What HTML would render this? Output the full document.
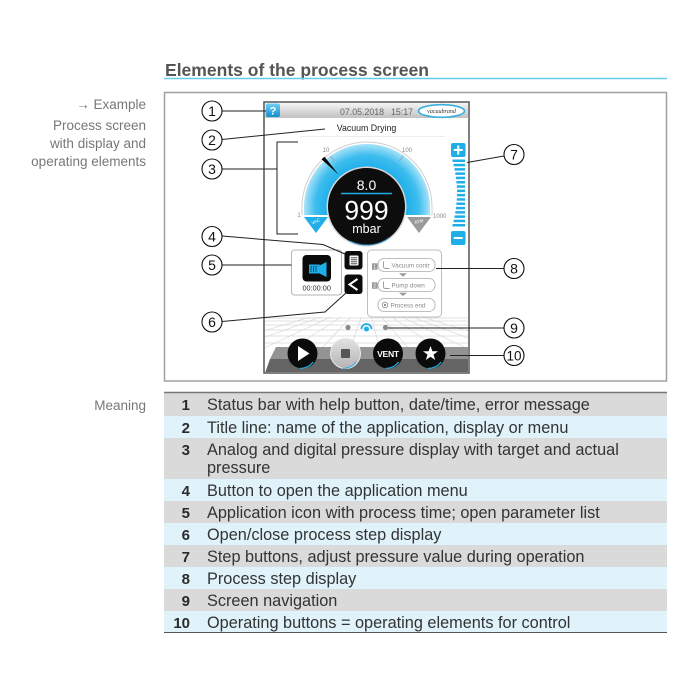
<!DOCTYPE html>
<html><head><meta charset="utf-8"><style>
html,body{margin:0;padding:0;background:#fff;}
svg{display:block;}
text{font-family:"Liberation Sans",Arial,sans-serif;}
</style></head><body>
<svg width="700" height="700" viewBox="0 0 700 700" xmlns="http://www.w3.org/2000/svg">
<defs>
 <linearGradient id="sb" x1="0" y1="0" x2="0" y2="1"><stop offset="0" stop-color="#f4f4f4"/><stop offset="1" stop-color="#c2c2c2"/></linearGradient>
 <linearGradient id="hb" x1="0" y1="0" x2="0" y2="1"><stop offset="0" stop-color="#6fd0f5"/><stop offset="1" stop-color="#1590d0"/></linearGradient>
 <radialGradient id="gb" cx="367" cy="207" r="63" gradientUnits="userSpaceOnUse"><stop offset="0.6" stop-color="#1badea"/><stop offset="0.82" stop-color="#3dbdee"/><stop offset="1" stop-color="#a8e3f8"/></radialGradient>
 <linearGradient id="stp" x1="0" y1="0" x2="0" y2="1"><stop offset="0" stop-color="#e2e2e2"/><stop offset="1" stop-color="#b4b4b4"/></linearGradient>
 <clipPath id="scr"><rect x="265" y="103" width="203" height="269"/></clipPath>
</defs>

<!-- Header -->
<text x="165" y="76" font-size="17.5" font-weight="bold" fill="#555" textLength="264" lengthAdjust="spacingAndGlyphs">Elements of the process screen</text>
<line x1="164" y1="78.5" x2="667" y2="78.5" stroke="#66cdef" stroke-width="1.5"/>

<!-- Left captions -->
<g font-size="13.5" fill="#777" text-anchor="end">
 <text x="146" y="109">→ Example</text>
 <text x="146" y="130">Process screen</text>
 <text x="146" y="148">with display and</text>
 <text x="146" y="166">operating elements</text>
 <text x="146" y="410">Meaning</text>
</g>

<!-- Frame -->
<rect x="164.5" y="92.5" width="502" height="288.5" fill="none" stroke="#a0a0a0" stroke-width="1.5"/>

<!-- Screen -->
<rect x="264" y="102" width="205" height="271" fill="#fff" stroke="#555" stroke-width="1.5"/>
<g clip-path="url(#scr)">
 <rect x="265" y="103" width="203" height="15" fill="url(#sb)"/>
 <!-- grid floor -->
 <g stroke="#d9d9d9" stroke-width="0.7">
  <line x1="265" y1="318" x2="468" y2="318"/>
  <line x1="265" y1="321" x2="468" y2="321"/>
  <line x1="265" y1="325" x2="468" y2="325"/>
  <line x1="265" y1="330" x2="468" y2="330"/>
  <line x1="265" y1="336" x2="468" y2="336"/>
  <line x1="265" y1="343" x2="468" y2="343"/>
  <line x1="367" y1="300" x2="200" y2="350"/>
  <line x1="367" y1="300" x2="230" y2="350"/>
  <line x1="367" y1="300" x2="260" y2="350"/>
  <line x1="367" y1="300" x2="290" y2="350"/>
  <line x1="367" y1="300" x2="320" y2="350"/>
  <line x1="367" y1="300" x2="350" y2="350"/>
  <line x1="367" y1="300" x2="380" y2="350"/>
  <line x1="367" y1="300" x2="410" y2="350"/>
  <line x1="367" y1="300" x2="440" y2="350"/>
  <line x1="367" y1="300" x2="470" y2="350"/>
  <line x1="367" y1="300" x2="500" y2="350"/>
  <line x1="367" y1="300" x2="530" y2="350"/>
 </g>
 <rect x="265" y="296" width="203" height="21" fill="#fff"/>
 <!-- bottom slab -->
 <polygon points="276,347 468,347 468,359 270,359" fill="#939393"/>
 <polygon points="270,359 468,359 468,373 265,373" fill="#646464"/>
</g>
<!-- status bar contents -->
<rect x="266" y="103.5" width="14" height="13.5" rx="2" fill="url(#hb)"/>
<text x="273" y="114.5" font-size="11" font-weight="bold" fill="#fff" text-anchor="middle">?</text>
<text x="340" y="115" font-size="8.8" fill="#666">07.05.2018</text>
<text x="391" y="115" font-size="8.8" fill="#666">15:17</text>
<ellipse cx="441.5" cy="111" rx="23" ry="6.3" fill="#fff" stroke="#3ab0e0" stroke-width="1.6"/>
<text x="441.5" y="113" font-size="6" font-style="italic" fill="#333" text-anchor="middle" style="font-family:'Liberation Serif',serif">vacuubrand</text>
<!-- title -->
<text x="366.5" y="131" font-size="8.8" fill="#222" text-anchor="middle">Vacuum Drying</text>
<line x1="300" y1="136.5" x2="445" y2="136.5" stroke="#ececec" stroke-width="1"/>

<!-- Gauge -->
<path d="M302,215 L302,207 A65,65 0 0 1 432,207 L432,215" fill="none" stroke="#cfcfcf" stroke-width="1"/>
<path d="M304,215 L304,207 A63,63 0 0 1 430,207 L430,215 Z" fill="url(#gb)"/>
<line x1="334.4" y1="161.5" x2="330.3" y2="155.8" stroke="#8aa" stroke-width="1"/>
<line x1="399.1" y1="161.2" x2="403.2" y2="155.5" stroke="#8aa" stroke-width="1"/>
<g font-size="6" fill="#888">
 <text x="326" y="152" text-anchor="middle">10</text>
 <text x="407" y="152" text-anchor="middle">100</text>
 <text x="299" y="217" text-anchor="middle">1</text>
 <text x="433" y="218">1000</text>
</g>
<polygon points="304,217 328,217 316,233" fill="#1eaee8"/>
<polygon points="407,217 431,217 419,233" fill="#9a9a9a"/>
<text x="316" y="223" font-size="4.5" fill="#fff" text-anchor="middle" transform="rotate(-25 316 222)">VAC</text>
<text x="419" y="223" font-size="4.5" fill="#fff" text-anchor="middle" transform="rotate(-15 419 222)">ATM</text>
<circle cx="366.5" cy="206.5" r="40" fill="#d8d8d8"/>
<circle cx="366.5" cy="206.5" r="38.5" fill="#0d0d0d"/>
<path d="M390,237 A38,38 0 0 1 350,241" fill="none" stroke="#1a7fb0" stroke-width="1"/>
<polygon points="321.5,159.3 324.5,156.7 338.5,174.5" fill="#000"/>
<text x="366.5" y="190" font-size="14" fill="#fff" text-anchor="middle">8.0</text>
<line x1="341" y1="193.5" x2="392" y2="193.5" stroke="#1eaee8" stroke-width="1.6"/>
<text x="366.5" y="219.5" font-size="26.5" fill="#fff" text-anchor="middle">999</text>
<text x="366.5" y="233" font-size="12.5" fill="#fff" text-anchor="middle">mbar</text>

<!-- Step buttons -->
<rect x="451" y="143" width="14.5" height="14" rx="2" fill="#1eaee8"/>
<path d="M458.2,145.5 v9 M453.7,150 h9" stroke="#fff" stroke-width="2"/>
<g fill="#1eaee8">
 <rect x="452.5" y="159.5" width="12.5" height="2.5"/>
 <rect x="453.6" y="163.8" width="11.4" height="2.5"/>
 <rect x="454.5" y="168.1" width="10.5" height="2.5"/>
 <rect x="455.3" y="172.4" width="9.7" height="2.5"/>
 <rect x="455.9" y="176.7" width="9.1" height="2.5"/>
 <rect x="456.4" y="181" width="8.6" height="2.5"/>
 <rect x="456.8" y="185.3" width="8.2" height="2.5"/>
 <rect x="457" y="189.6" width="8" height="2.5"/>
 <rect x="457" y="193.9" width="8" height="2.5"/>
 <rect x="456.8" y="198.2" width="8.2" height="2.5"/>
 <rect x="456.4" y="202.5" width="8.6" height="2.5"/>
 <rect x="455.9" y="206.8" width="9.1" height="2.5"/>
 <rect x="455.3" y="211.1" width="9.7" height="2.5"/>
 <rect x="454.5" y="215.4" width="10.5" height="2.5"/>
 <rect x="453.6" y="219.7" width="11.4" height="2.5"/>
 <rect x="452.5" y="224" width="12.5" height="2.5"/>
</g>
<rect x="451" y="231" width="14.5" height="14" rx="2" fill="#1eaee8"/>
<path d="M453.7,238 h9" stroke="#fff" stroke-width="2"/>

<!-- App box -->
<rect x="291.5" y="250" width="50" height="45" rx="3" fill="#fff" stroke="#b5b5b5" stroke-width="1"/>
<rect x="302.5" y="255" width="28.5" height="26.5" rx="4" fill="#0b0b0b"/>
<rect x="309" y="264.5" width="10.5" height="9" fill="#1eaee8"/>
<polygon points="319.5,265.5 326.5,262 326.5,277 319.5,273.5" fill="#1eaee8"/>
<path d="M311,272 v-5 l1,-1 M313.5,272 v-5 l1,-1 M316,272 v-5 l1,-1" stroke="#0b3550" stroke-width="0.8" fill="none"/>
<text x="316.7" y="290.5" font-size="7.3" fill="#333" text-anchor="middle">00:00:00</text>

<!-- Menu & back buttons -->
<rect x="344.5" y="251" width="18" height="18.5" rx="3" fill="#0b0b0b"/>
<rect x="349.5" y="255.5" width="9" height="10" rx="1" fill="#fff"/>
<path d="M350.8,257.8 h6.4 M350.8,259.8 h6.4 M350.8,261.8 h6.4 M350.8,263.8 h6.4" stroke="#333" stroke-width="0.8"/>
<rect x="344.5" y="274.5" width="18" height="19.5" rx="3" fill="#0b0b0b"/>
<polyline points="357.5,279 349.5,284.5 357.5,290" fill="none" stroke="#fff" stroke-width="2"/>

<!-- Process step box -->
<rect x="367.5" y="250" width="74" height="67" rx="4" fill="#fff" stroke="#bdbdbd" stroke-width="1"/>
<rect x="372" y="263.3" width="5.5" height="6.5" fill="#9a9a9a"/>
<text x="374.7" y="268.5" font-size="5" fill="#fff" text-anchor="middle">1</text>
<rect x="378" y="258.5" width="57" height="13" rx="6" fill="#fff" stroke="#aaa" stroke-width="0.8"/>
<path d="M383.5,261.5 v5 q0,2 2,2 h4" fill="none" stroke="#999" stroke-width="0.9"/>
<text x="391.5" y="267.5" font-size="6.3" fill="#8a8a8a">Vacuum contr</text>
<polygon points="399,273.3 407,273.3 403,276.7" fill="#999"/>
<rect x="372" y="282.3" width="5.5" height="6.5" fill="#9a9a9a"/>
<text x="374.7" y="287.5" font-size="5" fill="#fff" text-anchor="middle">2</text>
<rect x="378" y="278.5" width="57" height="13" rx="6" fill="#fff" stroke="#aaa" stroke-width="0.8"/>
<path d="M383.5,281.5 v5 q0,2 2,2 h4" fill="none" stroke="#999" stroke-width="0.9"/>
<text x="391.5" y="287.5" font-size="6.3" fill="#8a8a8a">Pump down</text>
<polygon points="399,292.7 407,292.7 403,296" fill="#999"/>
<rect x="378" y="298.5" width="57" height="13" rx="6" fill="#fff" stroke="#aaa" stroke-width="0.8"/>
<circle cx="385" cy="305" r="2.8" fill="none" stroke="#888" stroke-width="0.8"/>
<circle cx="385" cy="305" r="1.1" fill="#888"/>
<text x="390.5" y="307.3" font-size="6.3" fill="#8a8a8a">Process end</text>

<!-- Nav dots -->
<circle cx="348" cy="327.5" r="2.6" fill="#8a8a8a"/>
<circle cx="385.5" cy="327.5" r="2.6" fill="#8a8a8a"/>
<circle cx="366.5" cy="329" r="2.5" fill="#1eaee8"/>
<path d="M361.5,329 A5,5 0 0 1 371.5,329" fill="none" stroke="#1eaee8" stroke-width="1.8"/>

<!-- Operating buttons -->
<circle cx="302.5" cy="353.5" r="15" fill="#0b0b0b"/>
<path d="M313,362 A15,15 0 0 1 300,368.3" fill="none" stroke="#1eaee8" stroke-width="1.2"/>
<polygon points="298,346 298,361 309.5,353.5" fill="#fff"/>
<circle cx="345.5" cy="353.5" r="15" fill="url(#stp)" stroke="#e8e8e8" stroke-width="1"/>
<path d="M356,362 A15,15 0 0 1 343,368.3" fill="none" stroke="#1eaee8" stroke-width="1"/>
<rect x="341" y="349" width="9" height="9" rx="1" fill="#555"/>
<circle cx="388" cy="353.5" r="15" fill="#0b0b0b"/>
<path d="M398.5,362 A15,15 0 0 1 385.5,368.3" fill="none" stroke="#1eaee8" stroke-width="1.2"/>
<text x="388" y="357" font-size="8.6" font-weight="bold" fill="#fff" text-anchor="middle" letter-spacing="-0.3">VENT</text>
<circle cx="430.5" cy="353.5" r="15" fill="#0b0b0b"/>
<path d="M441,362 A15,15 0 0 1 428,368.3" fill="none" stroke="#1eaee8" stroke-width="1.2"/>
<polygon points="430.5,346 432.4,351.3 438,351.3 433.5,354.6 435.2,360 430.5,356.8 425.8,360 427.5,354.6 423,351.3 428.6,351.3" fill="#fff"/>

<!-- Callout lines -->
<g stroke="#222" stroke-width="1" fill="none">
 <line x1="222" y1="111" x2="266" y2="111"/>
 <line x1="222" y1="139.5" x2="325" y2="129"/>
 <line x1="222" y1="169" x2="277" y2="169"/>
 <polyline points="298,142 277,142 277,234 298,234"/>
 <polyline points="222,236 323,244.5 345,254"/>
 <line x1="222" y1="265" x2="291.5" y2="265"/>
 <polyline points="222,321.5 325,312 347,292"/>
 <line x1="504" y1="156" x2="467" y2="162.5"/>
 <line x1="504" y1="268.5" x2="436" y2="268.5"/>
 <line x1="504" y1="328" x2="388" y2="328"/>
 <line x1="504" y1="355.5" x2="450" y2="355.5"/>
</g>
<g fill="#fff" stroke="#111" stroke-width="1.1">
 <circle cx="212" cy="111" r="10"/>
 <circle cx="212" cy="140" r="10"/>
 <circle cx="212" cy="169" r="10"/>
 <circle cx="212" cy="236.5" r="10"/>
 <circle cx="212" cy="265" r="10"/>
 <circle cx="212" cy="322" r="10"/>
 <circle cx="514" cy="154.5" r="10"/>
 <circle cx="514" cy="268.5" r="10"/>
 <circle cx="514" cy="328" r="10"/>
 <circle cx="514" cy="355.5" r="10"/>
</g>
<g font-size="14" fill="#111" text-anchor="middle">
 <text x="212" y="116">1</text>
 <text x="212" y="145">2</text>
 <text x="212" y="174">3</text>
 <text x="212" y="241.5">4</text>
 <text x="212" y="270">5</text>
 <text x="212" y="327">6</text>
 <text x="514" y="159.5">7</text>
 <text x="514" y="273.5">8</text>
 <text x="514" y="333">9</text>
 <text x="514" y="360.5" font-size="13.5">10</text>
</g>

<!-- Table -->
<rect x="164" y="393" width="503" height="23" fill="#dadada"/>
<rect x="164" y="416" width="503" height="22" fill="#e0f2fa"/>
<rect x="164" y="438" width="503" height="41" fill="#dadada"/>
<rect x="164" y="479" width="503" height="22" fill="#e0f2fa"/>
<rect x="164" y="501" width="503" height="22" fill="#dadada"/>
<rect x="164" y="523" width="503" height="22" fill="#e0f2fa"/>
<rect x="164" y="545" width="503" height="22" fill="#dadada"/>
<rect x="164" y="567" width="503" height="22" fill="#e0f2fa"/>
<rect x="164" y="589" width="503" height="22" fill="#dadada"/>
<rect x="164" y="611" width="503" height="21" fill="#e0f2fa"/>
<line x1="164" y1="392.5" x2="667" y2="392.5" stroke="#777" stroke-width="1.5"/>
<line x1="164" y1="632.5" x2="667" y2="632.5" stroke="#555" stroke-width="1"/>
<g font-size="15" font-weight="bold" fill="#2a2a2a" text-anchor="end">
 <text x="190" y="410">1</text>
 <text x="190" y="433">2</text>
 <text x="190" y="455">3</text>
 <text x="190" y="496">4</text>
 <text x="190" y="518">5</text>
 <text x="190" y="540">6</text>
 <text x="190" y="562">7</text>
 <text x="190" y="584">8</text>
 <text x="190" y="606">9</text>
 <text x="190" y="628">10</text>
</g>
<g font-size="16.3" fill="#333">
 <text x="207" y="410">Status bar with help button, date/time, error message</text>
 <text x="207" y="433">Title line: name of the application, display or menu</text>
 <text x="207" y="455">Analog and digital pressure display with target and actual</text>
 <text x="207" y="473">pressure</text>
 <text x="207" y="496">Button to open the application menu</text>
 <text x="207" y="518">Application icon with process time; open parameter list</text>
 <text x="207" y="540">Open/close process step display</text>
 <text x="207" y="562">Step buttons, adjust pressure value during operation</text>
 <text x="207" y="584">Process step display</text>
 <text x="207" y="606">Screen navigation</text>
 <text x="207" y="628">Operating buttons = operating elements for control</text>
</g>
</svg>
</body></html>
